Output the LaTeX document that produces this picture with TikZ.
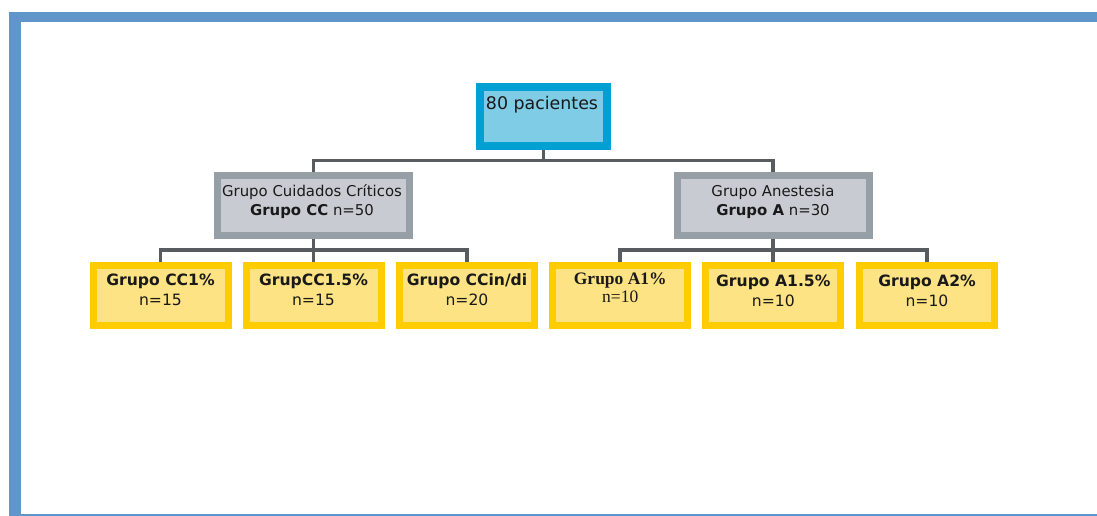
\documentclass[tikz,border=0pt]{standalone}
\usepackage{fontspec}
\setmainfont{DejaVu Sans}
\newfontfamily\serifbox{Liberation Serif}
\definecolor{frameblue}{RGB}{96,150,201}
\definecolor{topborder}{RGB}{0,160,210}
\definecolor{topfill}{RGB}{127,204,230}
\definecolor{grayborder}{RGB}{150,158,166}
\definecolor{grayfill}{RGB}{200,204,210}
\definecolor{yelborder}{RGB}{255,204,0}
\definecolor{yelfill}{RGB}{253,227,131}
\definecolor{connector}{RGB}{88,92,97}
\definecolor{txt}{RGB}{25,25,25}
\tikzset{
  topbox/.style={draw=topborder, fill=topfill, line width=8pt, minimum width=127pt, minimum height=59pt, inner sep=0pt},
  graybox/.style={draw=grayborder, fill=grayfill, line width=7pt, minimum width=192pt, minimum height=60pt, inner sep=0pt},
  yelbox/.style={draw=yelborder, fill=yelfill, line width=7pt, minimum width=135pt, minimum height=60pt, inner sep=0pt},
  lab/.style={anchor=base, inner sep=0pt, text=txt},
  toplab/.style={lab, font=\fontsize{17.4}{20}\selectfont},
  graylab/.style={lab, font=\fontsize{14.9}{17}\selectfont},
  yellab/.style={lab, font=\fontsize{15.6}{18}\selectfont},
  seriflab/.style={lab, font=\serifbox\fontsize{17.5}{20}\selectfont},
  conn/.style={draw=connector, line width=3.8pt},
}
\begin{document}
\begin{tikzpicture}[x=1pt,y=-1pt]
\useasboundingbox (0,0) rectangle (1097,516);
% frame
\fill[frameblue] (9,12) rectangle (1097,22.3);
\fill[frameblue] (9,12) rectangle (20.7,516);
\fill[frameblue] (9,513.5) rectangle (1097,516);

% boxes
\node[topbox] (root) at (543.5,116.5) {};
\node[graybox] (cc) at (313.5,205.5) {};
\node[graybox] (a) at (773,205.5) {};
\node[yelbox] (cc1) at (160.5,295) {};
\node[yelbox] (cc2) at (313.5,295) {};
\node[yelbox] (cc3) at (467,295) {};
\node[yelbox] (a1) at (620.3,295) {};
\node[yelbox] (a2) at (773,295) {};
\node[yelbox] (a3) at (927,295) {};

% connectors
\coordinate (j0) at (543.5,160.5);
\coordinate (j1) at (313.5,250.3);
\coordinate (j2) at (773,250.3);
\draw[conn] (root.south) -- (j0);
\draw[conn] (cc.north) |- (j0) -| (a.north);
\draw[conn] (cc.south) -- (j1);
\draw[conn] (cc1.north) |- (j1) -| (cc3.north);
\draw[conn] (cc2.north) -- (j1);
\draw[conn] (a.south) -- (j2);
\draw[conn] (a1.north) |- (j2) -| (a3.north);
\draw[conn] (a2.north) -- (j2);

% texts
\node[toplab] (t0) at (542,110) {80 pacientes};
\node[graylab] (tcc1) at (312,196.7) {Grupo Cuidados Críticos};
\node[graylab] (tcc2) at (312,215.7) {\bfseries Grupo CC\mdseries{} n=50};
\node[graylab] (ta1) at (773,196.7) {Grupo Anestesia};
\node[graylab] (ta2) at (773,215.7) {\bfseries Grupo A\mdseries{} n=30};

\node[yellab] (l1a) at (160.5,285.7) {\bfseries Grupo CC1\%};
\node[yellab] (l1b) at (160.5,305.3) {n=15};
\node[yellab] (l2a) at (313.5,285.7) {\bfseries GrupCC1.5\%};
\node[yellab] (l2b) at (313.5,305.3) {n=15};
\node[yellab] (l3a) at (467,285.7) {\bfseries Grupo CCin/di};
\node[yellab] (l3b) at (467,305.3) {n=20};
\node[seriflab] (l4a) at (620.3,284.3) {\bfseries Grupo A1\%};
\node[seriflab] (l4b) at (620.3,302.7) {n=10};
\node[yellab] (l5a) at (773.3,286.7) {\bfseries Grupo A1.5\%};
\node[yellab] (l5b) at (773.3,306.7) {n=10};
\node[yellab] (l6a) at (927,286.7) {\bfseries Grupo A2\%};
\node[yellab] (l6b) at (927,306.7) {n=10};
\end{tikzpicture}
\end{document}
